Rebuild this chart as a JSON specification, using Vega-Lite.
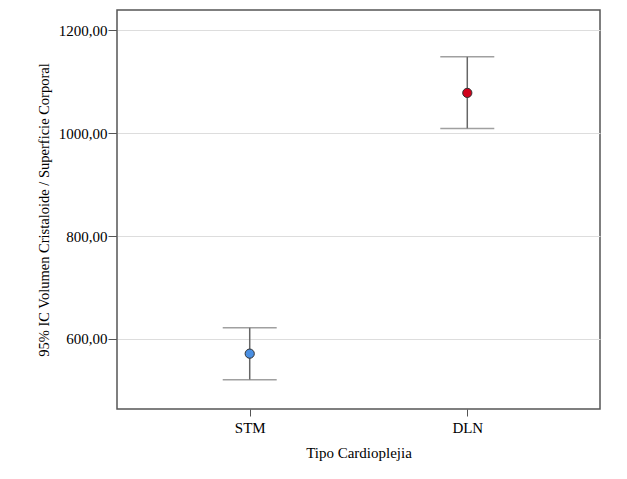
{
  "$schema": "https://vega.github.io/schema/vega-lite/v6.json",
  "autosize": {"type": "none"},
  "padding": {"left": 117, "top": 10, "right": 27, "bottom": 70},
  "width": 483,
  "height": 399,
  "background": "white",
  "config": {
    "view": {"stroke": "#555555", "strokeWidth": 1.5},
    "font": "Liberation Serif"
  },
  "data": {
    "values": [
      {"tipo": "STM", "media": 571.5, "inf": 521, "sup": 622},
      {"tipo": "DLN", "media": 1078, "inf": 1009, "sup": 1148}
    ]
  },
  "encoding": {
    "x": {
      "field": "tipo",
      "type": "nominal",
      "sort": ["STM", "DLN"],
      "scale": {"type": "point", "padding": 0.61},
      "axis": {
        "title": "Tipo Cardioplejia",
        "labelAngle": 0,
        "labelFont": "Liberation Serif",
        "labelFontSize": 15,
        "labelColor": "#000000",
        "labelPadding": 4,
        "titleFont": "Liberation Serif",
        "titleFontSize": 15,
        "titleFontWeight": "normal",
        "titleColor": "#000000",
        "titlePadding": 10,
        "domain": false,
        "ticks": true,
        "tickSize": 7,
        "tickColor": "#555555",
        "grid": false
      }
    }
  },
  "layer": [
    {
      "mark": {"type": "rule", "color": "#666666", "strokeWidth": 1.5},
      "encoding": {
        "y": {
          "field": "inf",
          "type": "quantitative",
          "scale": {"domain": [464, 1239], "nice": false, "zero": false},
          "axis": {
            "title": "95% IC Volumen Cristaloide / Superficie Corporal",
            "values": [600, 800, 1000, 1200],
            "labelExpr": "replace(format(datum.value, '.2f'), '.', ',')",
            "labelFont": "Liberation Serif",
            "labelFontSize": 15,
            "labelColor": "#000000",
            "labelPadding": 1,
            "titleFont": "Liberation Serif",
            "titleFontSize": 14.5,
            "titleFontWeight": "normal",
            "titleColor": "#000000",
            "titlePadding": 7,
            "domain": false,
            "tickSize": 9,
            "tickColor": "#555555",
            "grid": true,
            "gridColor": "#dddddd",
            "gridWidth": 1
          }
        },
        "y2": {"field": "sup"}
      }
    },
    {
      "mark": {"type": "tick", "color": "#777777", "thickness": 1.5, "size": 54, "orient": "horizontal"},
      "encoding": {"y": {"field": "inf", "type": "quantitative"}}
    },
    {
      "mark": {"type": "tick", "color": "#777777", "thickness": 1.5, "size": 54, "orient": "horizontal"},
      "encoding": {"y": {"field": "sup", "type": "quantitative"}}
    },
    {
      "mark": {"type": "point", "filled": true, "size": 85, "stroke": "#333333", "strokeWidth": 1, "opacity": 1},
      "encoding": {
        "y": {"field": "media", "type": "quantitative"},
        "color": {
          "field": "tipo",
          "type": "nominal",
          "scale": {"domain": ["STM", "DLN"], "range": ["#4a8fe2", "#d0021b"]},
          "legend": null
        }
      }
    }
  ]
}
